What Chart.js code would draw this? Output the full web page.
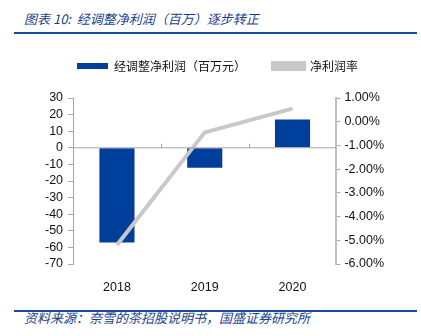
<!DOCTYPE html>
<html>
<head>
<meta charset="utf-8">
<script src="https://cdn.jsdelivr.net/npm/chart.js@4.4.0/dist/chart.umd.min.js"></script>
<style>
  body { margin: 0; background: #fff; width: 421px; height: 336px; overflow: hidden; position: relative; }
  .title { position: absolute; left: 24px; top: 9px; font: italic 13px "Noto Sans CJK SC", sans-serif; color: #1b3f8f; }
  .rule { position: absolute; left: 14px; width: 403px; height: 2px; background: #1b4c9c; }
  .source { position: absolute; left: 24px; top: 308px; font: italic 13px "Noto Sans CJK SC", sans-serif; color: #1b3f8f; }
  .wrap { position: absolute; left: 0; top: 27px; width: 421px; height: 280px; }
</style>
</head>
<body>
<div class="title">图表 10:&nbsp; 经调整净利润（百万）逐步转正</div>
<div class="rule" style="top:32px"></div>
<div class="wrap"><canvas id="chart"></canvas></div>
<div class="rule" style="top:310px"></div>
<div class="source">资料来源：奈雪的茶招股说明书，国盛证券研究所</div>
<script>
// Data
const years = ['2018', '2019', '2020'];
const adjProfit = [-57, -12, 17];          // 经调整净利润（百万元）
const netMargin = [-5.2, -0.45, 0.55];     // 净利润率 (%)
const leftTicks = [30, 20, 10, 0, -10, -20, -30, -40, -50, -60, -70];
const rightTicks = [1, 0, -1, -2, -3, -4, -5, -6];

const axisGray = '#a6a6a6';
const tickFont = { family: 'Liberation Sans, Arial, sans-serif', size: 12.5 };
const legendStart = 77; // x where the first legend swatch begins

// Zero line with small category separators, like the original
const zeroAxis = {
    id: 'zeroAxis',
    afterDatasetsDraw(chart) {
        const ctx = chart.ctx;
        const x = chart.scales.x;
        const y0 = chart.scales.y.getPixelForValue(0);
        ctx.save();
        ctx.strokeStyle = axisGray;
        ctx.lineWidth = 1;
        ctx.beginPath();
        ctx.moveTo(x.left, y0);
        ctx.lineTo(x.right, y0);
        const step = (x.right - x.left) / years.length;
        for (let i = 1; i < years.length; i++) {
            const px = Math.round(x.left + step * i) + 0.5;
            ctx.moveTo(px, y0);
            ctx.lineTo(px, y0 - 4);
        }
        ctx.stroke();
        ctx.restore();
    }
};

// More room under the legend, and place its first swatch where the original has it
const legendSpacing = {
    id: 'legendSpacing',
    beforeInit(chart) {
        const fit = chart.legend.fit;
        chart.legend.fit = function () {
            fit.bind(chart.legend)();
            this.height += 16;
        };
    },
    afterLayout(chart) {
        const lg = chart.legend;
        const pad = lg.options.labels.padding;
        const start = (lg.left + pad + lg.right - lg.lineWidths[0]) / 2;
        const shift = legendStart - start;
        lg.left += shift;
        lg.right += shift;
    }
};

const ctx = document.getElementById('chart').getContext('2d');
new Chart(ctx, {
    data: {
        labels: years,
        datasets: [{
            type: 'line',
            label: '净利润率',
            data: netMargin,
            yAxisID: 'y1',
            borderColor: '#c8c8c8',
            backgroundColor: '#c8c8c8',
            borderWidth: 4,
            pointRadius: 0,
            tension: 0,
            order: 0
        }, {
            type: 'bar',
            label: '经调整净利润（百万元）',
            data: adjProfit,
            yAxisID: 'y',
            backgroundColor: '#003e9b',
            categoryPercentage: 1,
            barPercentage: 0.4,
            order: 1
        }]
    },
    options: {
        responsive: true,
        maintainAspectRatio: false,
        animation: false,
        layout: { padding: { left: 40, right: 33, top: 6, bottom: 4 } },
        plugins: {
            tooltip: { enabled: false },
            legend: {
                position: 'top',
                reverse: true,
                labels: {
                    boxWidth: 31,
                    boxHeight: 6,
                    padding: 27,
                    color: '#111',
                    font: { family: 'Noto Sans CJK SC, sans-serif', size: 12 }
                }
            }
        },
        scales: {
            x: {
                offset: true,
                grid: { display: false },
                border: { display: false },
                ticks: { color: '#111', font: tickFont, padding: 8 }
            },
            y: {
                position: 'left',
                min: -70,
                max: 30,
                afterBuildTicks: axis => { axis.ticks = leftTicks.map(v => ({ value: v })); },
                grid: { drawOnChartArea: false, drawTicks: true, tickLength: 5, color: axisGray },
                border: { display: true, color: axisGray, width: 1 },
                ticks: { color: '#111', font: tickFont, padding: 5, autoSkip: false }
            },
            y1: {
                position: 'right',
                min: -6,
                max: 1,
                afterBuildTicks: axis => { axis.ticks = rightTicks.map(v => ({ value: v })); },
                grid: { drawOnChartArea: false, drawTicks: true, tickLength: 4, color: axisGray },
                border: { display: true, color: '#bfbfbf', width: 2 },
                ticks: {
                    color: '#111',
                    font: tickFont,
                    padding: 4,
                    autoSkip: false,
                    callback: v => v.toFixed(2) + '%'
                }
            }
        }
    },
    plugins: [zeroAxis, legendSpacing]
});
</script>
</body>
</html>
